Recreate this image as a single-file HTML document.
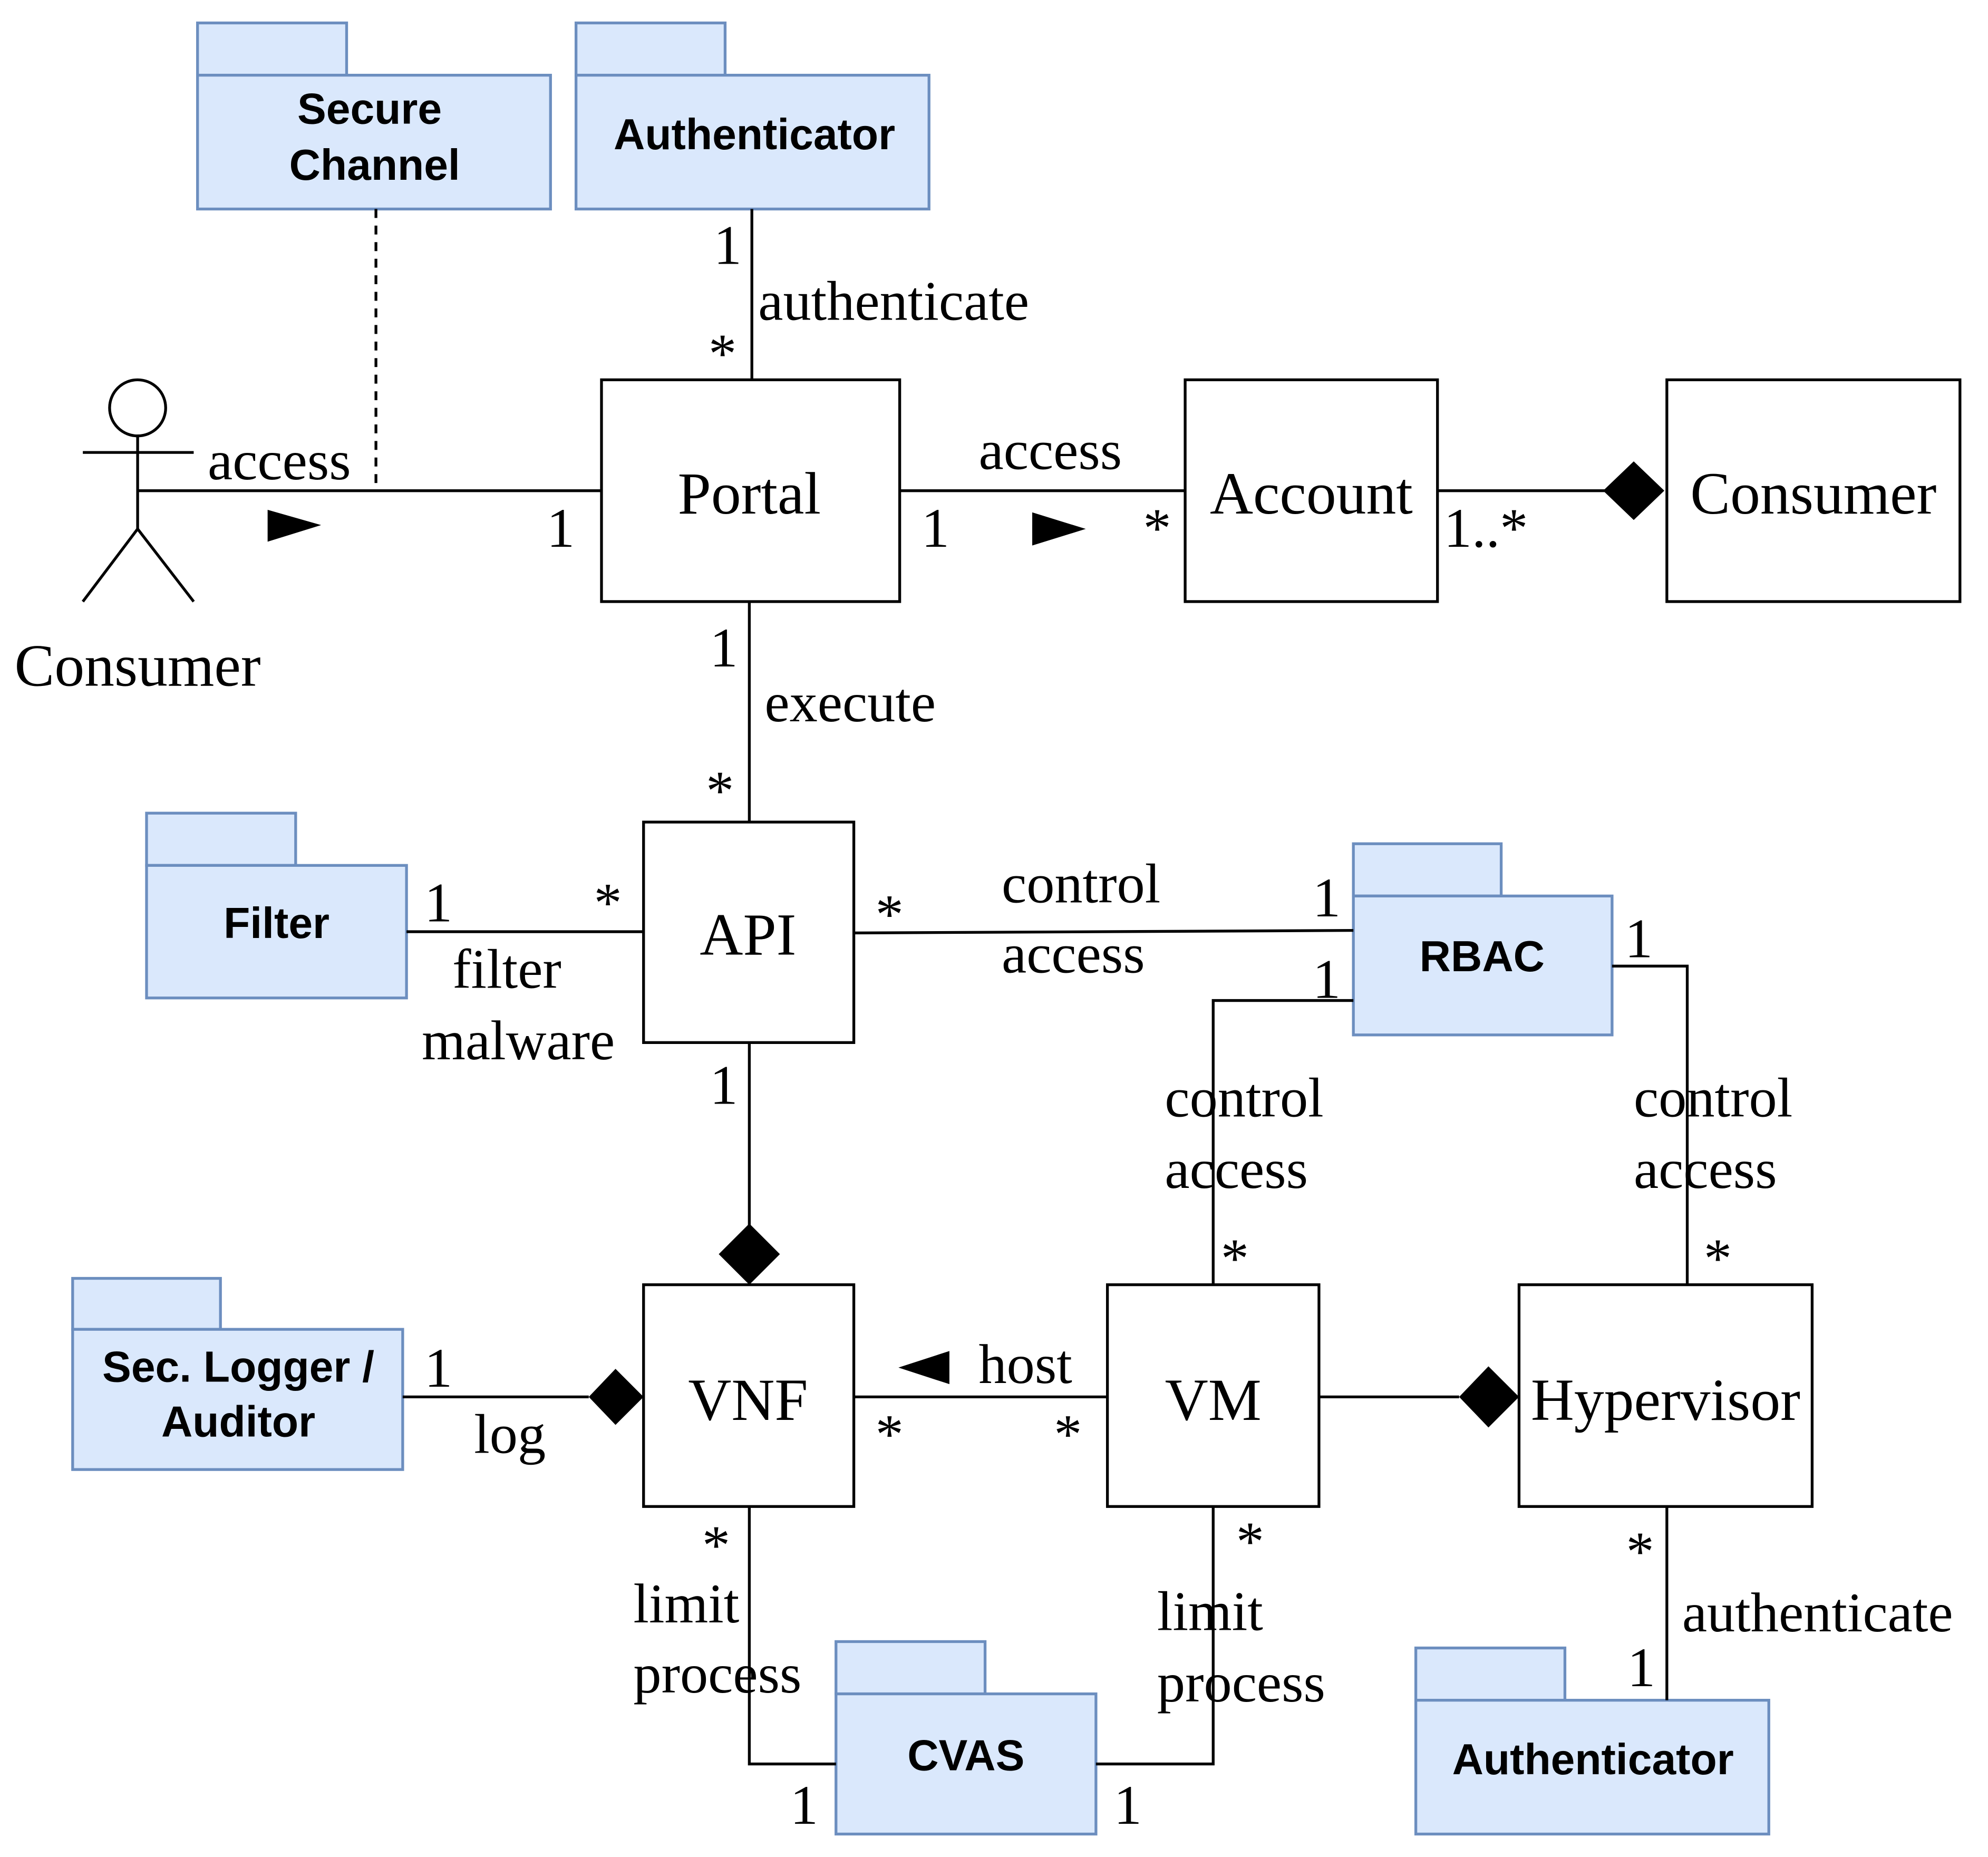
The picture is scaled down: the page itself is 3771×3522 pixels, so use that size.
<!DOCTYPE html>
<html><head><meta charset="utf-8"><style>html,body{margin:0;padding:0;background:#fff}svg{display:block}</style></head>
<body>
<svg width="3771" height="3522" viewBox="0 0 1560 1457" preserveAspectRatio="none" xmlns="http://www.w3.org/2000/svg">
<rect width="1560" height="1457" fill="#fff"/>
<g fill="#dae8fc" stroke="#6c8ebf" stroke-width="2.2">
<rect x="155" y="18" width="117" height="41"/><rect x="155" y="59" width="277" height="105"/>
<rect x="452" y="18" width="117" height="41"/><rect x="452" y="59" width="277" height="105"/>
<rect x="115" y="638" width="117" height="41"/><rect x="115" y="679" width="204" height="104"/>
<rect x="1062" y="662" width="116" height="41"/><rect x="1062" y="703" width="203" height="109"/>
<rect x="57" y="1003" width="116" height="40"/><rect x="57" y="1043" width="259" height="110"/>
<rect x="656" y="1288" width="117" height="41"/><rect x="656" y="1329" width="204" height="110"/>
<rect x="1111" y="1293" width="117" height="41"/><rect x="1111" y="1334" width="277" height="105"/>
</g>
<g fill="#fff" stroke="#000" stroke-width="2.2">
<rect x="472" y="298" width="234" height="174"/>
<rect x="930" y="298" width="198" height="174"/>
<rect x="1308" y="298" width="230" height="174"/>
<rect x="505" y="645" width="165" height="173"/>
<rect x="505" y="1008" width="165" height="174"/>
<rect x="869" y="1008" width="166" height="174"/>
<rect x="1192" y="1008" width="230" height="174"/>
</g>
<g stroke="#000" stroke-width="2.2" fill="none">
<line x1="590" y1="164" x2="590" y2="298"/>
<line x1="295" y1="164" x2="295" y2="385" stroke-dasharray="7,6"/>
<line x1="108" y1="385" x2="472" y2="385"/>
<line x1="706" y1="385" x2="930" y2="385"/>
<line x1="1128" y1="385" x2="1260" y2="385"/>
<line x1="588" y1="472" x2="588" y2="645"/>
<line x1="319" y1="731" x2="505" y2="731"/>
<line x1="670" y1="732" x2="1062" y2="730"/>
<polyline points="1062,785 952,785 952,1008"/>
<polyline points="1265,758 1324,758 1324,1008"/>
<line x1="588" y1="818" x2="588" y2="962"/>
<line x1="316" y1="1096" x2="462" y2="1096"/>
<line x1="670" y1="1096" x2="869" y2="1096"/>
<line x1="1035" y1="1096" x2="1145" y2="1096"/>
<polyline points="588,1182 588,1384 656,1384"/>
<polyline points="952,1182 952,1384 860,1384"/>
<line x1="1308" y1="1182" x2="1308" y2="1334"/>
<circle cx="108" cy="320" r="22"/>
<line x1="108" y1="342" x2="108" y2="415"/>
<line x1="65" y1="355" x2="152" y2="355"/>
<polyline points="65,472 108,415 152,472"/>
</g>
<g fill="#000">
<polygon points="1258,385 1282,362 1306,385 1282,408"/>
<polygon points="588,960 612,984 588,1008 564,984"/>
<polygon points="462,1096 483,1074 505,1096 483,1118"/>
<polygon points="1145,1096 1168,1072 1192,1096 1168,1120"/>
<polygon points="210,400 252,412 210,425"/>
<polygon points="810,402 852,415 810,428"/>
<polygon points="745,1060 705,1073 745,1086"/>
</g>
<g font-family="Liberation Sans, Arial, sans-serif" font-weight="bold" font-size="34" text-anchor="middle" fill="#000">
<text x="290" y="97">Secure</text><text x="294" y="141">Channel</text>
<text x="592" y="117">Authenticator</text>
<text x="217" y="736">Filter</text>
<text x="1163" y="762">RBAC</text>
<text x="187" y="1084">Sec. Logger /</text><text x="187" y="1127">Auditor</text>
<text x="758" y="1389">CVAS</text>
<text x="1250" y="1392">Authenticator</text>
</g>
<g font-family="Liberation Serif, Times New Roman, serif" font-size="47" fill="#000">
<g text-anchor="middle">
<text x="588" y="403">Portal</text>
<text x="1029" y="403">Account</text>
<text x="1423" y="403">Consumer</text>
<text x="108" y="538">Consumer</text>
<text x="587" y="749">API</text>
<text x="587" y="1114">VNF</text>
<text x="952" y="1114">VM</text>
<text x="1307" y="1114">Hypervisor</text>
</g>
<g font-size="44">
<text x="595" y="251">authenticate</text>
<text x="163" y="376">access</text>
<text x="768" y="368">access</text>
<text x="600" y="566">execute</text>
<text x="355" y="775">filter</text>
<text x="331" y="831">malware</text>
<text x="786" y="708">control</text>
<text x="786" y="763">access</text>
<text x="914" y="876">control</text>
<text x="914" y="932">access</text>
<text x="1282" y="876">control</text>
<text x="1282" y="932">access</text>
<text x="768" y="1085">host</text>
<text x="372" y="1140">log</text>
<text x="497" y="1273">limit</text>
<text x="497" y="1328">process</text>
<text x="908" y="1279">limit</text>
<text x="908" y="1335">process</text>
<text x="1320" y="1280">authenticate</text>
<text x="560" y="207">1</text>
<text x="556" y="292">*</text>
<text x="429" y="429">1</text>
<text x="723" y="429">1</text>
<text x="897" y="429">*</text>
<text x="1133" y="429">1..*</text>
<text x="557" y="523">1</text>
<text x="554" y="635">*</text>
<text x="333" y="723">1</text>
<text x="466" y="723">*</text>
<text x="687" y="732">*</text>
<text x="1030" y="719">1</text>
<text x="1030" y="783">1</text>
<text x="1275" y="751">1</text>
<text x="958" y="1002">*</text>
<text x="1337" y="1002">*</text>
<text x="557" y="866">1</text>
<text x="333" y="1088">1</text>
<text x="687" y="1140">*</text>
<text x="827" y="1140">*</text>
<text x="551" y="1227">*</text>
<text x="970" y="1224">*</text>
<text x="1276" y="1232">*</text>
<text x="1277" y="1323">1</text>
<text x="620" y="1431">1</text>
<text x="874" y="1431">1</text>
</g>
</g>
</svg>
</body></html>
